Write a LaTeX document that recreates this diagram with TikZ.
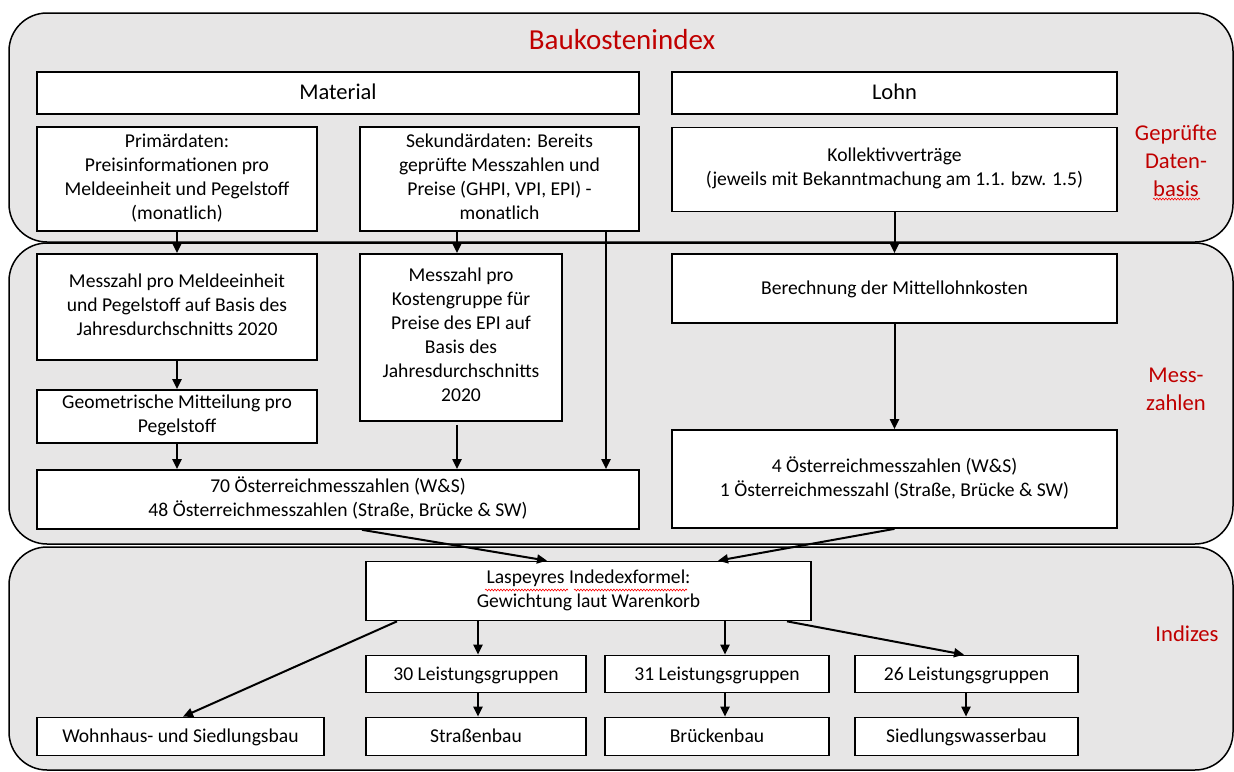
\documentclass[tikz,border=0pt]{standalone}
\usepackage{fontspec}
\setmainfont{Carlito}
\usetikzlibrary{arrows.meta,decorations.pathmorphing}
\definecolor{panelgray}{HTML}{E7E6E6}
\definecolor{redlab}{HTML}{C00000}
\newcommand\boxstrut{\rule[-5.4pt]{0pt}{23.4pt}}
\begin{document}
\begin{tikzpicture}[x=1pt,y=-1pt,
  panel/.style={draw=black, line width=1.5pt, fill=panelgray, rounded corners=38pt},
  box/.style={draw=black, line width=1.7pt, fill=white, inner sep=2pt, align=center, font=\fontsize{19.6}{24}\selectfont, execute at begin node=\boxstrut, execute at end node=\boxstrut},
  bigbox/.style={box, font=\fontsize{22.5}{27}\selectfont},
  arr/.style={line width=2pt, -{Triangle[length=10pt,width=9pt]}},
  lab/.style={text=redlab, align=center, font=\fontsize{22.6}{28}\selectfont},
  squig/.style={draw=red, line width=0.6pt, decorate, decoration={snake,amplitude=0.9pt,segment length=3pt}}
]
\useasboundingbox (0,0) rectangle (1234,771);
% panels
\path[panel] (9,13) rectangle (1233,242);
\path[panel] (9,243) rectangle (1233,544);
\path[panel] (9,547) rectangle (1233,770);
% labels
\node[lab, font=\fontsize{29}{34}\selectfont] (title) at (622,40) {Baukostenindex};
\node[lab] (gep) at (1176,161) {Geprüfte\\Daten-\\basis};
\node[lab] (mess) at (1176,389) {Mess-\\zahlen};
\node[lab] (ind) at (1187,634) {Indizes};
% boxes
\node[bigbox, minimum width=602pt, minimum height=42pt] (mat) at (338,93) {Material};
\node[bigbox, minimum width=445pt, minimum height=42pt] (lohn) at (894.5,93) {Lohn};
\node[box, minimum width=280pt, minimum height=104pt] (prim) at (177,179) {Primärdaten:\\Preisinformationen pro\\Meldeeinheit und Pegelstoff\\(monatlich)};
\node[box, minimum width=279pt, minimum height=104pt] (sek) at (499.5,179) {Sekundärdaten: Bereits\\geprüfte Messzahlen und\\Preise (GHPI, VPI, EPI) -\\monatlich};
\node[box, minimum width=445pt, minimum height=84pt] (koll) at (894.5,169.5) {Kollektivverträge\\(jeweils mit Bekanntmachung am 1.1. bzw. 1.5)};
\node[box, minimum width=280pt, minimum height=106pt] (mz1) at (177,307) {Messzahl pro Meldeeinheit\\und Pegelstoff auf Basis des\\Jahresdurchschnitts 2020};
\node[box, minimum width=202pt, minimum height=167pt] (mz2) at (461,337.5) {Messzahl pro\\Kostengruppe für\\Preise des EPI auf\\Basis des\\Jahresdurchschnitts\\2020};
\node[box, minimum width=445pt, minimum height=69pt] (ber) at (894.5,288.5) {Berechnung der Mittellohnkosten};
\node[box, minimum width=280pt, minimum height=53pt] (geo) at (177,416.5) {Geometrische Mitteilung pro\\Pegelstoff};
\node[box, minimum width=602pt, minimum height=59pt] (oe70) at (338,499.5) {70 Österreichmesszahlen (W\&S)\\48 Österreichmesszahlen (Straße, Brücke \& SW)};
\node[box, minimum width=445pt, minimum height=98pt] (oe4) at (894.5,479) {4 Österreichmesszahlen (W\&S)\\1 Österreichmesszahl (Straße, Brücke \& SW)};
\node[box, minimum width=445pt, minimum height=59pt] (lasp) at (588.5,591) {Laspeyres Indedexformel:\\Gewichtung laut Warenkorb};
\node[box, minimum width=220pt, minimum height=37pt] (lg30) at (476,674) {30 Leistungsgruppen};
\node[box, minimum width=224pt, minimum height=37pt] (lg31) at (717,674) {31 Leistungsgruppen};
\node[box, minimum width=223pt, minimum height=37pt] (lg26) at (966.5,674) {26 Leistungsgruppen};
\node[box, minimum width=287pt, minimum height=38pt] (wohn) at (180.5,736.5) {Wohnhaus- und Siedlungsbau};
\node[box, minimum width=220pt, minimum height=38pt] (str) at (476,736.5) {Straßenbau};
\node[box, minimum width=224pt, minimum height=38pt] (bru) at (717,736.5) {Brückenbau};
\node[box, minimum width=223pt, minimum height=38pt] (sied) at (966.5,736.5) {Siedlungswasserbau};
% spelling squiggles
\draw[squig] (1153,199) -- (1200,199);
\draw[squig] (485,590) -- (568,590);
\draw[squig] (574,590) -- (687,590);
% arrows
\draw[arr] (prim.south) -- (mz1.north);
\draw[arr] (sek.south -| 457,0) -- (mz2.north -| 457,0);
\draw[arr] (sek.south -| 606,0) -- (oe70.north -| 606,0);
\draw[arr] (koll.south) -- (ber.north);
\draw[arr] (mz1.south) -- (geo.north);
\draw[arr] (geo.south) -- (oe70.north -| geo.south);
\draw[arr] ([yshift=-3pt]mz2.south -| 457,0) -- (oe70.north -| 457,0);
\draw[arr] (ber.south) -- (oe4.north);
\draw[arr] (oe70.south -| 362,0) -- (lasp.north -| 547,0);
\draw[arr] (oe4.south) -- (lasp.north -| 718,0);
\draw[arr] (lasp.south -| 397,0) -- (wohn.north -| 183,0);
\draw[arr] (lasp.south -| 478,0) -- (lg30.north -| 478,0);
\draw[arr] (lasp.south -| 725,0) -- (lg31.north -| 725,0);
\draw[arr] (lasp.south -| 787,0) -- (lg26.north -| 964,0);
\draw[arr] (lg30.south -| 478,0) -- (str.north -| 478,0);
\draw[arr] (lg31.south -| 725,0) -- (bru.north -| 725,0);
\draw[arr] (lg26.south -| 966,0) -- (sied.north -| 966,0);
\end{tikzpicture}
\end{document}
